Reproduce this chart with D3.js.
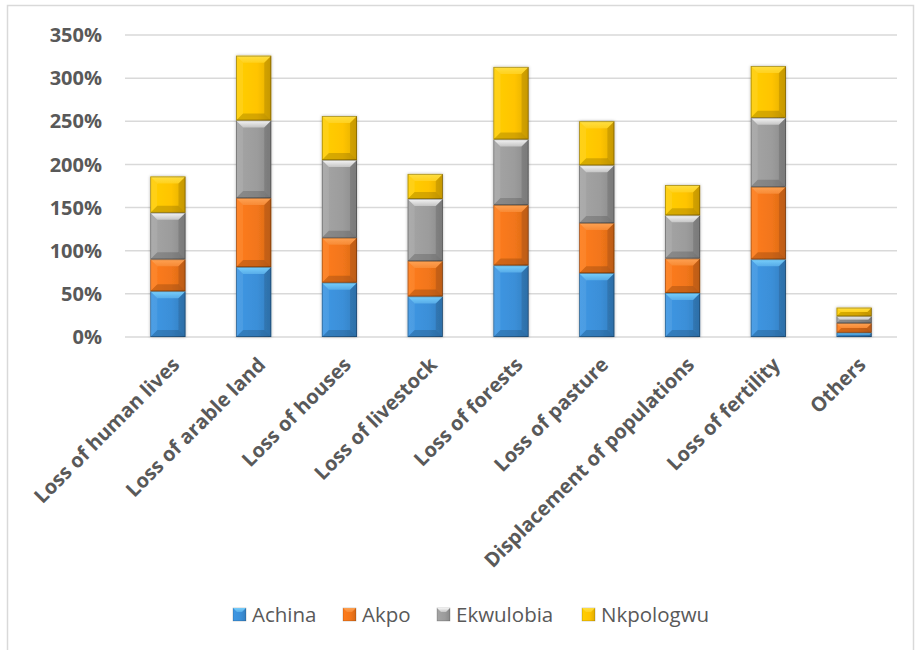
<!DOCTYPE html>
<html>
<head>
<meta charset="utf-8">
<script src="https://cdnjs.cloudflare.com/ajax/libs/d3/7.8.5/d3.min.js"></script>
<style>
  body { margin: 0; background: #fff; }
  text { font-family: "Open Sans", "DejaVu Sans", sans-serif; fill: #595959; }
</style>
</head>
<body>
<svg id="chart" width="915" height="650"></svg>
<script>
  // data (percent)
  var categories = ["Loss of human lives", "Loss of arable land", "Loss of houses",
    "Loss of livestock", "Loss of forests", "Loss of pasture",
    "Displacement of populations", "Loss of fertility", "Others"];
  var seriesNames = ["Achina", "Akpo", "Ekwulobia", "Nkpologwu"];
  var achina    = [53, 81, 63, 47, 83, 74, 51, 90, 5];
  var akpo      = [37, 80, 52, 41, 70, 58, 40, 84, 11];
  var ekwulobia = [54, 90, 90, 72, 76, 67, 50, 80, 8];
  var nkpologwu = [42, 75, 51, 29, 84, 51, 35, 60, 10];
  var yTicks = [0, 50, 100, 150, 200, 250, 300, 350];

  var baseColors = ["#3b8fd8", "#f2761a", "#9c9c9c", "#ffc400"];
  var topColors  = ["#7fd6ff", "#ffa75a", "#ffffff", "#ffe24a"];

  var svg = d3.select("#chart");

  // outer chart frame
  svg.append("rect")
    .attr("x", 7.5).attr("y", 5.5)
    .attr("width", 906).attr("height", 650)
    .attr("fill", "#fff")
    .attr("stroke", "#d9d9d9")
    .attr("stroke-width", 1.5);

  var x = d3.scaleBand()
    .domain(categories)
    .range([125, 897])
    .paddingInner(0.59)
    .paddingOuter(0.295);

  var y = d3.scaleLinear()
    .domain([0, 350])
    .range([337, 35]);

  // gridlines
  svg.append("g").selectAll("line")
    .data(yTicks)
    .enter().append("line")
    .attr("x1", 125).attr("x2", 897)
    .attr("y1", function (d) { return y(d); })
    .attr("y2", function (d) { return y(d); })
    .attr("stroke", "#d9d9d9")
    .attr("stroke-width", 1.5);

  // y axis labels
  svg.append("g").selectAll("text")
    .data(yTicks)
    .enter().append("text")
    .attr("x", 102)
    .attr("y", function (d) { return y(d); })
    .attr("dy", "0.36em")
    .attr("text-anchor", "end")
    .style("font-size", "20px")
    .style("font-weight", "bold")
    .text(function (d) { return d + "%"; });

  // stack
  var rows = categories.map(function (c, i) {
    return { cat: c, Achina: achina[i], Akpo: akpo[i], Ekwulobia: ekwulobia[i], Nkpologwu: nkpologwu[i] };
  });
  var stacked = d3.stack().keys(seriesNames)(rows);

  var defs = svg.append("defs");
  var shadow = defs.append("filter").attr("id", "shadow")
    .attr("x", "-30%").attr("y", "-10%").attr("width", "160%").attr("height", "120%");
  shadow.append("feDropShadow")
    .attr("dx", 0).attr("dy", 0).attr("stdDeviation", 1.5)
    .attr("flood-color", "#000").attr("flood-opacity", 0.3);

  baseColors.forEach(function (c, i) {
    var g = defs.append("linearGradient").attr("id", "grad" + i)
      .attr("x1", 0).attr("x2", 1).attr("y1", 0).attr("y2", 0);
    g.append("stop").attr("offset", "0%").attr("stop-color", d3.color(c).brighter(0.15));
    g.append("stop").attr("offset", "60%").attr("stop-color", c);
    g.append("stop").attr("offset", "100%").attr("stop-color", d3.color(c).darker(0.35));

    var t = defs.append("linearGradient").attr("id", "top" + i)
      .attr("x1", 0).attr("x2", 0).attr("y1", 0).attr("y2", 1);
    t.append("stop").attr("offset", "0%").attr("stop-color", topColors[i]);
    t.append("stop").attr("offset", "100%").attr("stop-color", d3.interpolateRgb(topColors[i], c)(0.55));
  });

  var barsG = svg.append("g").attr("filter", "url(#shadow)");

  stacked.forEach(function (layer, si) {
    var lg = barsG.append("g").attr("class", "series_" + si);
    layer.forEach(function (d, i) {
      var x0 = x(categories[i]);
      var w = x.bandwidth();
      var yt = y(d[1]);
      var yb = y(d[0]);
      var h = yb - yt;
      var b = Math.min(7, h / 2, w / 2);
      var seg = lg.append("g");

      seg.append("rect")
        .attr("x", x0).attr("y", yt)
        .attr("width", w).attr("height", h)
        .attr("fill", "url(#grad" + si + ")");

      // bevel facets
      var facets = [
        { pts: [[x0, yt], [x0 + w, yt], [x0 + w - b, yt + b], [x0 + b, yt + b]], fill: "url(#top" + si + ")", op: 0.9 },
        { pts: [[x0, yb], [x0 + w, yb], [x0 + w - b, yb - b], [x0 + b, yb - b]], fill: "#000", op: 0.16 },
        { pts: [[x0, yt], [x0 + b, yt + b], [x0 + b, yb - b], [x0, yb]], fill: "#fff", op: 0.08 },
        { pts: [[x0 + w, yt], [x0 + w - b, yt + b], [x0 + w - b, yb - b], [x0 + w, yb]], fill: "#000", op: 0.12 }
      ];
      seg.selectAll("polygon")
        .data(facets)
        .enter().append("polygon")
        .attr("points", function (f) { return f.pts.map(function (p) { return p.join(","); }).join(" "); })
        .attr("fill", function (f) { return f.fill; })
        .attr("fill-opacity", function (f) { return f.op; });

      seg.append("rect")
        .attr("x", x0 + 0.4).attr("y", yt + 0.4)
        .attr("width", w - 0.8).attr("height", Math.max(0, h - 0.8))
        .attr("fill", "none")
        .attr("stroke", "#000")
        .attr("stroke-opacity", 0.35)
        .attr("stroke-width", 0.8);
    });
  });

  // category labels, rotated
  svg.append("g").selectAll("text")
    .data(categories)
    .enter().append("text")
    .attr("transform", function (d) {
      return "translate(" + (x(d) + x.bandwidth() / 2 + 8) + "," + 361 + ") rotate(-45)";
    })
    .attr("text-anchor", "end")
    .attr("dy", "0.35em")
    .style("font-size", "20px")
    .style("font-weight", "bold")
    .text(function (d) { return d; });

  // legend
  var legendX = [233, 343, 437, 582];
  var legend = svg.append("g").selectAll("g")
    .data(seriesNames)
    .enter().append("g")
    .attr("transform", function (d, i) { return "translate(" + legendX[i] + ",608)"; });

  legend.append("rect")
    .attr("width", 13).attr("height", 13)
    .attr("fill", function (d, i) { return "url(#grad" + i + ")"; })
    .attr("stroke", "#000").attr("stroke-opacity", 0.3).attr("stroke-width", 0.6);
  legend.append("polygon")
    .attr("points", "0,0 13,0 9,4 4,4")
    .attr("fill", function (d, i) { return "url(#top" + i + ")"; })
    .attr("fill-opacity", 0.9);

  legend.append("text")
    .attr("x", 19)
    .attr("y", 7)
    .attr("dy", "0.36em")
    .style("font-size", "20.5px")
    .text(function (d) { return d; });
</script>
</body>
</html>
